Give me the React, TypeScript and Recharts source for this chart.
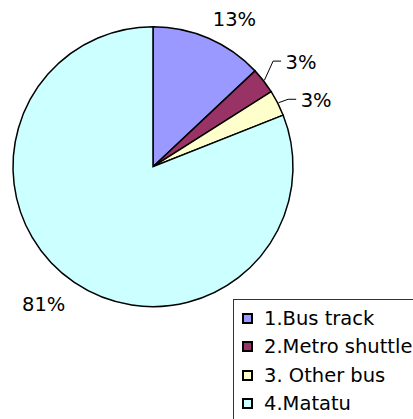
import React from 'react';
import { PieChart, Pie, Cell, Legend } from 'recharts';

const categories = ['1.Bus track', '2.Metro shuttle', '3. Other bus', '4.Matatu'];
const shares = [13, 3, 3, 81];

const sliceColors = ['#9999FF', '#993366', '#FFFFCC', '#CCFFFF'];
// label placement style: angular shift (deg, clockwise) and distance from the centre
const labelStyle = [
  { shift: 5.6, r: 168, leader: false },
  { shift: 2.7, r: 181, leader: true },
  { shift: 5, r: 176, leader: true },
  { shift: 4.2, r: 176, leader: false },
];

const data = categories.map((name, i) => ({ name, value: shares[i] }));

const FONT = '"DejaVu Sans", Verdana, sans-serif';

const renderLabel = (props: any) => {
  const { cx, cy, midAngle, outerRadius, index, value } = props;
  const st = labelStyle[index];
  const RAD = Math.PI / 180;
  const a = (midAngle - st.shift) * RAD;
  const x = cx + st.r * Math.cos(a);
  const y = cy - st.r * Math.sin(a);
  const m = midAngle * RAD;
  const sx = cx + (outerRadius + 1) * Math.cos(m);
  const sy = cy - (outerRadius + 1) * Math.sin(m);
  return (
    <g key={`lbl-${index}`}>
      {st.leader && (
        <polyline
          points={`${sx},${sy} ${x - 28},${y - 1.5} ${x - 20},${y - 1.5}`}
          fill="none"
          stroke="#000"
          strokeWidth={1}
        />
      )}
      <text
        x={x}
        y={y}
        textAnchor="middle"
        dominantBaseline="central"
        fontSize={19.5}
        fontFamily={FONT}
        fill="#000"
      >
        {`${value}%`}
      </text>
    </g>
  );
};

const renderLegend = () => (
  <div
    style={{
      border: '1px solid #333',
      background: '#fff',
      width: 240,
      paddingTop: 4,
      paddingBottom: 10,
      fontFamily: FONT,
      fontSize: 19.5,
      color: '#000',
    }}
  >
    {categories.map((c, i) => (
      <div key={c} style={{ display: 'flex', alignItems: 'center', height: 28.5, whiteSpace: 'nowrap' }}>
        <span
          style={{
            display: 'inline-block',
            width: 7,
            height: 7,
            marginLeft: 8,
            marginRight: 11,
            background: sliceColors[i],
            border: '2px solid #000',
          }}
        />
        <span>{c}</span>
      </div>
    ))}
  </div>
);

export default function App() {
  return (
    <div style={{ position: 'absolute', left: 0, top: 0, width: 413, height: 419, overflow: 'hidden', background: '#fff' }}>
      <PieChart width={413} height={419} margin={{ top: 0, right: 0, bottom: 0, left: 0 }}>
        <Pie
          data={data}
          dataKey="value"
          nameKey="name"
          cx={153}
          cy={166.7}
          outerRadius={140}
          startAngle={90}
          endAngle={-270}
          stroke="#000"
          strokeWidth={1.5}
          label={renderLabel}
          labelLine={false}
          isAnimationActive={false}
        >
          {data.map((d, i) => (
            <Cell key={d.name} fill={sliceColors[i]} />
          ))}
        </Pie>
        <Legend
          layout="vertical"
          align="right"
          verticalAlign="middle"
          content={renderLegend}
          wrapperStyle={{ position: 'absolute', left: 233, top: 299, width: 240 }}
        />
      </PieChart>
    </div>
  );
}
